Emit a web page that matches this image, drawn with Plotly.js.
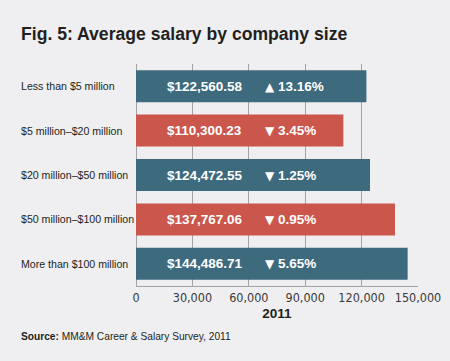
<!DOCTYPE html>
<html>
<head>
<meta charset="utf-8">
<script src="https://cdn.plot.ly/plotly-3.0.1.min.js"></script>
<style>
html,body{margin:0;padding:0;background:#efeff1;}
#chart{width:450px;height:361px;}
</style>
</head>
<body>
<div id="chart"></div>
<script>
const categories = ["Less than $5 million", "$5 million\u2013$20 million", "$20 million\u2013$50 million", "$50 million\u2013$100 million", "More than $100 million"];
const salaries = [122560.58, 110300.23, 124472.55, 137767.06, 144486.71];
const changes = [13.16, -3.45, -1.25, -0.95, -5.65];
const yearLabel = "2011";
const sourceText = "MM&M Career & Salary Survey, 2011";
const xTicks = [0, 30000, 60000, 90000, 120000, 150000];

const barColors = ["#3e6a7e", "#cb564c", "#3e6a7e", "#cb564c", "#3e6a7e"];
const narrow = '"DejaVu Sans Condensed", "Liberation Sans", Arial, sans-serif';
const sans = '"Liberation Sans", Arial, sans-serif';

const fmtMoney = v => "$" + v.toLocaleString("en-US", {minimumFractionDigits: 2, maximumFractionDigits: 2});
const arrow = c => '<span style="font-family:DejaVu Sans;font-size:12px">' + (c >= 0 ? "\u25B2" : "\u25BC") + '</span>';
const fmtChange = c => arrow(c) + " " + Math.abs(c).toFixed(2) + "%";

const plotLeft = 136, plotRight = 418, W = 450;
const pxToPaper = px => (px - plotLeft) / (plotRight - plotLeft);

const annotations = [];
categories.forEach((c, i) => {
  annotations.push({
    text: c, xref: "paper", yref: "y", x: pxToPaper(19), y: c,
    xanchor: "left", yanchor: "middle", showarrow: false,
    font: {family: sans, size: 10.6, color: "#231f20"}
  });
  annotations.push({
    text: "<b>" + fmtMoney(salaries[i]) + "</b>", xref: "x", yref: "y", x: 15600, y: c,
    xanchor: "left", yanchor: "middle", showarrow: false,
    font: {family: sans, size: 13.5, color: "#ffffff"}
  });
  annotations.push({
    text: "<b>" + fmtChange(changes[i]) + "</b>", xref: "x", yref: "y", x: 67300, y: c,
    xanchor: "left", yanchor: "middle", showarrow: false,
    font: {family: sans, size: 13.5, color: "#ffffff"}
  });
});
annotations.push({
  text: "<b>Source:</b> " + sourceText, xref: "paper", yref: "paper",
  x: pxToPaper(19), y: -(336 - 286) / 222, xanchor: "left", yanchor: "middle",
  showarrow: false, font: {family: sans, size: 10.2, color: "#231f20"}
});

const trace = {
  type: "bar", orientation: "h",
  x: salaries, y: categories,
  marker: {color: barColors, line: {width: 0}},
  hoverinfo: "none"
};

const layout = {
  width: 450, height: 361,
  paper_bgcolor: "#efeff1", plot_bgcolor: "#efeff1",
  margin: {l: 136, r: 32, t: 64, b: 75},
  title: {
    text: "<b>Fig. 5: Average salary by company size</b>",
    xref: "container", yref: "container", x: 21 / W, xanchor: "left",
    y: 1 - 28 / 361, yanchor: "top",
    font: {family: sans, size: 17.6, color: "#231f20"}
  },
  bargap: 0.28,
  showlegend: false,
  xaxis: {
    range: [0, 150000], tickvals: xTicks, tickformat: ",d",
    showgrid: true, gridcolor: "#a3a3a5", gridwidth: 1,
    zeroline: true, zerolinecolor: "#a3a3a5", zerolinewidth: 1,
    showline: true, linecolor: "#a3a3a5", linewidth: 1,
    ticks: "",
    tickfont: {family: narrow, size: 12.5, color: "#3a3a3a"},
    title: {text: "<b>" + yearLabel + "</b>", standoff: 4, font: {family: sans, size: 13.5, color: "#231f20"}},
    fixedrange: true
  },
  yaxis: {
    type: "category", range: [4.5, -0.5], showticklabels: false,
    showgrid: false, zeroline: false, showline: false, ticks: "", fixedrange: true
  },
  annotations: annotations
};

Plotly.newPlot("chart", [trace], layout, {displayModeBar: false, staticPlot: true});
</script>
</body>
</html>
